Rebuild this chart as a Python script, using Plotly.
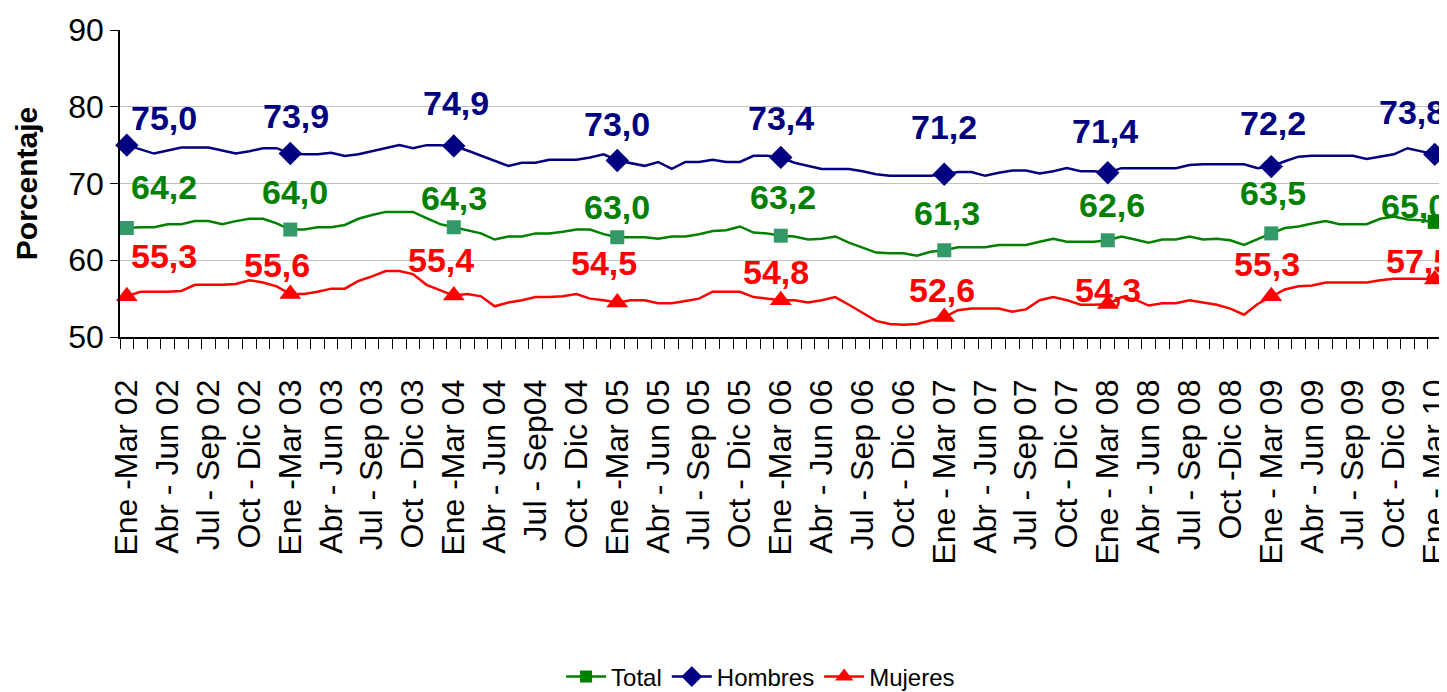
import plotly.graph_objects as go

# Rolling quarters, Ene-Mar 02 .. Feb-Abr 10 (one value per month window)
total = [64.2, 64.3, 64.3, 64.7, 64.7, 65.1, 65.1, 64.7, 65.1, 65.4, 65.4, 64.8,
         64.0, 64.0, 64.3, 64.3, 64.6, 65.4, 65.9, 66.3, 66.3, 66.3, 65.5, 64.7,
         64.3, 63.9, 63.5, 62.7, 63.1, 63.1, 63.5, 63.5, 63.7, 64.0, 64.0, 63.4,
         63.0, 63.0, 63.0, 62.8, 63.1, 63.1, 63.4, 63.8, 63.9, 64.4, 63.6, 63.5,
         63.2, 63.1, 62.7, 62.8, 63.1, 62.3, 61.7, 61.0, 60.9, 60.9, 60.6, 61.1,
         61.3, 61.7, 61.7, 61.7, 62.0, 62.0, 62.0, 62.4, 62.8, 62.4, 62.4, 62.4,
         62.6, 63.1, 62.7, 62.3, 62.7, 62.7, 63.1, 62.7, 62.8, 62.6, 62.0, 62.8,
         63.5, 64.2, 64.4, 64.8, 65.1, 64.7, 64.7, 64.7, 65.4, 65.7, 65.3, 65.2,
         65.0, 65.0]

hombres = [75.0, 74.4, 73.9, 74.3, 74.7, 74.7, 74.7, 74.3, 73.9, 74.2, 74.6, 74.6,
           73.9, 73.8, 73.8, 74.0, 73.6, 73.8, 74.2, 74.6, 75.0, 74.6, 75.0, 75.0,
           74.9, 74.3, 73.6, 72.9, 72.3, 72.7, 72.7, 73.1, 73.1, 73.1, 73.4, 73.8,
           73.0, 72.6, 72.3, 72.8, 71.9, 72.8, 72.8, 73.1, 72.8, 72.8, 73.6, 73.6,
           73.4, 72.7, 72.3, 71.9, 71.9, 71.9, 71.6, 71.2, 71.0, 71.0, 71.0, 71.0,
           71.2, 71.5, 71.5, 71.0, 71.4, 71.7, 71.7, 71.3, 71.6, 72.0, 71.6, 71.6,
           71.4, 72.0, 72.0, 72.0, 72.0, 72.0, 72.4, 72.5, 72.5, 72.5, 72.5, 72.0,
           72.2, 72.9, 73.5, 73.6, 73.6, 73.6, 73.6, 73.2, 73.5, 73.8, 74.6, 74.2,
           73.8, 73.2]

mujeres = [55.3, 55.9, 55.9, 55.9, 56.0, 56.8, 56.8, 56.8, 56.9, 57.4, 57.1, 56.6,
           55.6, 55.6, 55.9, 56.3, 56.3, 57.3, 57.9, 58.6, 58.6, 58.2, 56.8, 56.1,
           55.4, 55.6, 55.3, 54.0, 54.5, 54.8, 55.2, 55.2, 55.3, 55.6, 55.0, 54.8,
           54.5, 54.8, 54.8, 54.4, 54.4, 54.7, 55.0, 55.9, 55.9, 55.9, 55.2, 55.0,
           54.8, 54.8, 54.5, 54.8, 55.2, 54.2, 53.1, 52.1, 51.7, 51.6, 51.7, 52.1,
           52.6, 53.5, 53.7, 53.7, 53.7, 53.3, 53.6, 54.8, 55.2, 54.8, 54.2, 54.2,
           54.3, 55.2, 54.9, 54.1, 54.4, 54.4, 54.8, 54.5, 54.2, 53.7, 52.9, 54.3,
           55.3, 56.2, 56.6, 56.7, 57.1, 57.1, 57.1, 57.1, 57.4, 57.6, 57.6, 57.6,
           57.5, 57.6]

tick_labels = ["Ene -Mar 02", "Abr - Jun 02", "Jul - Sep 02", "Oct - Dic 02",
               "Ene -Mar 03", "Abr - Jun 03", "Jul - Sep 03", "Oct - Dic 03",
               "Ene -Mar 04", "Abr - Jun 04", "Jul - Sep04", "Oct - Dic 04",
               "Ene -Mar 05", "Abr - Jun 05", "Jul - Sep 05", "Oct - Dic 05",
               "Ene -Mar 06", "Abr - Jun 06", "Jul - Sep 06", "Oct - Dic 06",
               "Ene - Mar 07", "Abr - Jun 07", "Jul - Sep 07", "Oct - Dic 07",
               "Ene - Mar 08", "Abr - Jun 08", "Jul - Sep 08", "Oct -Dic 08",
               "Ene - Mar 09", "Abr - Jun 09", "Jul - Sep 09", "Oct - Dic 09",
               "Ene - Mar 10"]

x = list(range(len(total)))
tickvals = x[::3][:len(tick_labels)]
marked = x[::12]   # Ene-Mar of each year gets a marker and a label

# label offsets in px (dx, dy) per marked point, as placed in the original
offsets = {
    "Total":   [(37, 41), (5, 38), (0, 29), (0, 30), (2, 39), (3, 37), (4, 35), (2, 40), (-21, 16)],
    "Hombres": [(37, 27), (6, 38), (2, 43), (0, 36), (0, 39), (0, 47), (-3, 42), (2, 44), (-23, 42)],
    "Mujeres": [(37, 40), (-13, 29), (-13, 36), (-13, 39), (-5, 28), (-2, 27), (0, 14), (-4, 32), (-16, 18)],
}

series = [
    ("Total", total, "#008000", "square", 14, "#339966"),
    ("Hombres", hombres, "#000080", "diamond", 18, "#000080"),
    ("Mujeres", mujeres, "#FF0000", "triangle-up", 19, "#FF0000"),
]

fig = go.Figure()
annotations = []
for name, vals, color, symbol, msize, mcolor in series:
    fig.add_trace(go.Scatter(x=x, y=vals, mode="lines", line=dict(color=color, width=2.5),
                             showlegend=False, hoverinfo="skip"))
    mcolors = [mcolor] * len(marked)
    if name == "Total":
        mcolors[-1] = "#008000"   # last point formatted differently
    fig.add_trace(go.Scatter(x=marked, y=[vals[i] for i in marked], mode="markers",
                             marker=dict(symbol=symbol, size=msize, color=mcolors, line=dict(width=0)),
                             showlegend=False, cliponaxis=False))
    # legend-only entry
    fig.add_trace(go.Scatter(x=[None], y=[None], mode="lines+markers", name=name,
                             line=dict(color=color, width=2.5),
                             marker=dict(symbol=symbol, size=msize - 2, color=color)))
    for k, i in enumerate(marked):
        dx, dy = offsets[name][k]
        annotations.append(dict(
            x=i, y=vals[i], text=f"{vals[i]:.1f}".replace(".", ","), showarrow=False,
            xshift=dx, yshift=dy,
            font=dict(family="Liberation Sans, Arial", size=34, color=color, weight="bold")))

# page body has an 8px margin, so the figure is sized to fit the window
fig.update_layout(
    width=1439, height=684,
    margin=dict(l=112, r=0, t=22, b=355, autoexpand=False),
    paper_bgcolor="white", plot_bgcolor="white",
    font=dict(family="Liberation Sans, Arial", color="black"),
    annotations=annotations,
    legend=dict(orientation="h", xref="container", yref="container",
                x=0.523, xanchor="center", y=0.022, yanchor="middle",
                font=dict(size=24, color="black"), itemwidth=40),
    xaxis=dict(
        range=[-0.5, 96.9], tickmode="array", tickvals=tickvals, ticktext=tick_labels,
        tickangle=-90, ticks="", tickfont=dict(size=32), ticklabelstandoff=28,
        ticklabeloverflow="allow", automargin=False,
        showline=True, linecolor="black", linewidth=1.5, showgrid=False, zeroline=False,
        minor=dict(ticks="outside", ticklen=10, tickcolor="black", tick0=-0.5, dtick=1,
                   showgrid=False),
    ),
    yaxis=dict(
        range=[50, 90], dtick=10, ticks="outside", ticklen=8, tickcolor="black",
        tickfont=dict(size=32), showline=True, linecolor="black", linewidth=1.5,
        gridcolor="#c0c0c0", gridwidth=1, zeroline=False, automargin=False,
        title=dict(text="Porcentaje", font=dict(size=30, weight="bold"), standoff=22),
    ),
)

fig.write_html("out.html")
